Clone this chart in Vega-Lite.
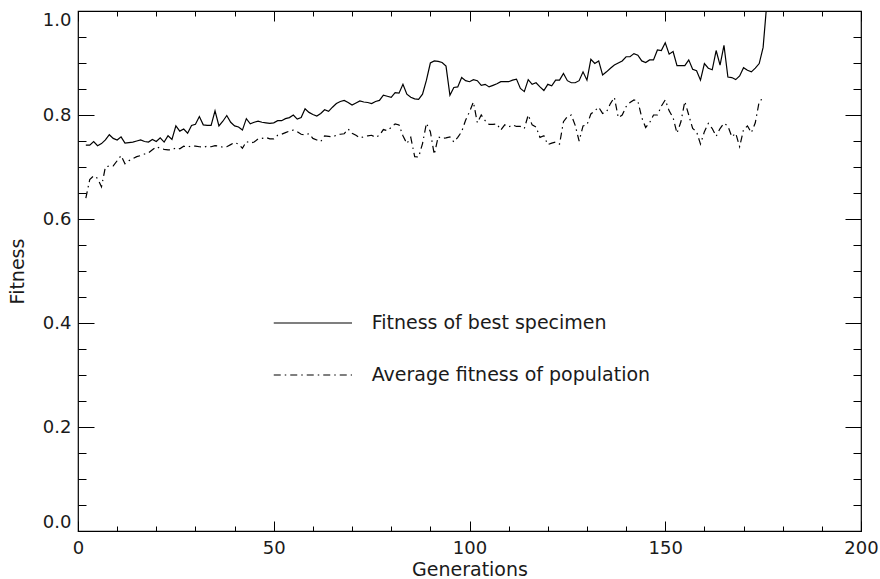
{
  "$schema": "https://vega.github.io/schema/vega-lite/v6.json",
  "width": 783,
  "height": 520,
  "autosize": {"type": "none"},
  "padding": {"left": 78, "top": 11, "right": 19, "bottom": 48},
  "background": "white",
  "config": {
    "view": {"stroke": "black", "strokeWidth": 1.2},
    "font": "DejaVu Sans",
    "axis": {
      "domain": false, "grid": false, "tickColor": "black", "tickWidth": 1,
      "labelColor": "#1a1a1a", "labelFont": "DejaVu Sans", "labelFontSize": 18, "labelFontWeight": "normal",
      "titleColor": "#1a1a1a", "titleFont": "DejaVu Sans", "titleFontSize": 19, "titleFontWeight": "normal"
    }
  },
  "datasets": {
    "best": [
      {"gen": 2, "fitness": 0.742}, {"gen": 3, "fitness": 0.742}, {"gen": 4, "fitness": 0.749}, {"gen": 5, "fitness": 0.741},
      {"gen": 6, "fitness": 0.745}, {"gen": 7, "fitness": 0.752}, {"gen": 8, "fitness": 0.762}, {"gen": 9, "fitness": 0.755},
      {"gen": 10, "fitness": 0.752}, {"gen": 11, "fitness": 0.758}, {"gen": 12, "fitness": 0.746}, {"gen": 13, "fitness": 0.747},
      {"gen": 14, "fitness": 0.748}, {"gen": 15, "fitness": 0.750}, {"gen": 16, "fitness": 0.752}, {"gen": 17, "fitness": 0.749},
      {"gen": 18, "fitness": 0.748}, {"gen": 19, "fitness": 0.753}, {"gen": 20, "fitness": 0.749}, {"gen": 21, "fitness": 0.756},
      {"gen": 22, "fitness": 0.748}, {"gen": 23, "fitness": 0.760}, {"gen": 24, "fitness": 0.753}, {"gen": 25, "fitness": 0.779},
      {"gen": 26, "fitness": 0.769}, {"gen": 27, "fitness": 0.773}, {"gen": 28, "fitness": 0.765}, {"gen": 29, "fitness": 0.780},
      {"gen": 30, "fitness": 0.782}, {"gen": 31, "fitness": 0.797}, {"gen": 32, "fitness": 0.781}, {"gen": 33, "fitness": 0.780},
      {"gen": 34, "fitness": 0.780}, {"gen": 35, "fitness": 0.808}, {"gen": 36, "fitness": 0.779}, {"gen": 37, "fitness": 0.788},
      {"gen": 38, "fitness": 0.799}, {"gen": 39, "fitness": 0.786}, {"gen": 40, "fitness": 0.779}, {"gen": 41, "fitness": 0.777},
      {"gen": 42, "fitness": 0.771}, {"gen": 43, "fitness": 0.793}, {"gen": 44, "fitness": 0.783}, {"gen": 45, "fitness": 0.786},
      {"gen": 46, "fitness": 0.788}, {"gen": 47, "fitness": 0.786}, {"gen": 48, "fitness": 0.785}, {"gen": 49, "fitness": 0.784},
      {"gen": 50, "fitness": 0.785}, {"gen": 51, "fitness": 0.789}, {"gen": 52, "fitness": 0.789}, {"gen": 53, "fitness": 0.793},
      {"gen": 54, "fitness": 0.795}, {"gen": 55, "fitness": 0.800}, {"gen": 56, "fitness": 0.792}, {"gen": 57, "fitness": 0.795},
      {"gen": 58, "fitness": 0.812}, {"gen": 59, "fitness": 0.805}, {"gen": 60, "fitness": 0.801}, {"gen": 61, "fitness": 0.798},
      {"gen": 62, "fitness": 0.803}, {"gen": 63, "fitness": 0.810}, {"gen": 64, "fitness": 0.807}, {"gen": 65, "fitness": 0.815},
      {"gen": 66, "fitness": 0.822}, {"gen": 67, "fitness": 0.826}, {"gen": 68, "fitness": 0.828}, {"gen": 69, "fitness": 0.824},
      {"gen": 70, "fitness": 0.819}, {"gen": 71, "fitness": 0.823}, {"gen": 72, "fitness": 0.827}, {"gen": 73, "fitness": 0.825},
      {"gen": 74, "fitness": 0.824}, {"gen": 75, "fitness": 0.822}, {"gen": 76, "fitness": 0.826}, {"gen": 77, "fitness": 0.828},
      {"gen": 78, "fitness": 0.838}, {"gen": 79, "fitness": 0.836}, {"gen": 80, "fitness": 0.834}, {"gen": 81, "fitness": 0.843},
      {"gen": 82, "fitness": 0.842}, {"gen": 83, "fitness": 0.859}, {"gen": 84, "fitness": 0.840}, {"gen": 85, "fitness": 0.834},
      {"gen": 86, "fitness": 0.831}, {"gen": 87, "fitness": 0.830}, {"gen": 88, "fitness": 0.840}, {"gen": 89, "fitness": 0.867},
      {"gen": 90, "fitness": 0.900}, {"gen": 91, "fitness": 0.904}, {"gen": 92, "fitness": 0.903}, {"gen": 93, "fitness": 0.901},
      {"gen": 94, "fitness": 0.894}, {"gen": 95, "fitness": 0.838}, {"gen": 96, "fitness": 0.853}, {"gen": 97, "fitness": 0.854},
      {"gen": 98, "fitness": 0.872}, {"gen": 99, "fitness": 0.866}, {"gen": 100, "fitness": 0.864}, {"gen": 101, "fitness": 0.868},
      {"gen": 102, "fitness": 0.866}, {"gen": 103, "fitness": 0.857}, {"gen": 104, "fitness": 0.859}, {"gen": 105, "fitness": 0.854},
      {"gen": 106, "fitness": 0.857}, {"gen": 107, "fitness": 0.860}, {"gen": 108, "fitness": 0.864}, {"gen": 109, "fitness": 0.864},
      {"gen": 110, "fitness": 0.864}, {"gen": 111, "fitness": 0.867}, {"gen": 112, "fitness": 0.869}, {"gen": 113, "fitness": 0.851},
      {"gen": 114, "fitness": 0.845}, {"gen": 115, "fitness": 0.868}, {"gen": 116, "fitness": 0.859}, {"gen": 117, "fitness": 0.862},
      {"gen": 118, "fitness": 0.854}, {"gen": 119, "fitness": 0.847}, {"gen": 120, "fitness": 0.859}, {"gen": 121, "fitness": 0.856},
      {"gen": 122, "fitness": 0.867}, {"gen": 123, "fitness": 0.867}, {"gen": 124, "fitness": 0.880}, {"gen": 125, "fitness": 0.866},
      {"gen": 126, "fitness": 0.862}, {"gen": 127, "fitness": 0.862}, {"gen": 128, "fitness": 0.866}, {"gen": 129, "fitness": 0.883},
      {"gen": 130, "fitness": 0.867}, {"gen": 131, "fitness": 0.907}, {"gen": 132, "fitness": 0.899}, {"gen": 133, "fitness": 0.904},
      {"gen": 134, "fitness": 0.877}, {"gen": 135, "fitness": 0.883}, {"gen": 136, "fitness": 0.890}, {"gen": 137, "fitness": 0.896},
      {"gen": 138, "fitness": 0.900}, {"gen": 139, "fitness": 0.904}, {"gen": 140, "fitness": 0.912}, {"gen": 141, "fitness": 0.912},
      {"gen": 142, "fitness": 0.918}, {"gen": 143, "fitness": 0.915}, {"gen": 144, "fitness": 0.904}, {"gen": 145, "fitness": 0.901},
      {"gen": 146, "fitness": 0.906}, {"gen": 147, "fitness": 0.906}, {"gen": 148, "fitness": 0.925}, {"gen": 149, "fitness": 0.924},
      {"gen": 150, "fitness": 0.939}, {"gen": 151, "fitness": 0.917}, {"gen": 152, "fitness": 0.922}, {"gen": 153, "fitness": 0.895},
      {"gen": 154, "fitness": 0.895}, {"gen": 155, "fitness": 0.895}, {"gen": 156, "fitness": 0.906}, {"gen": 157, "fitness": 0.888},
      {"gen": 158, "fitness": 0.885}, {"gen": 159, "fitness": 0.867}, {"gen": 160, "fitness": 0.899}, {"gen": 161, "fitness": 0.890},
      {"gen": 162, "fitness": 0.887}, {"gen": 163, "fitness": 0.924}, {"gen": 164, "fitness": 0.896}, {"gen": 165, "fitness": 0.934},
      {"gen": 166, "fitness": 0.873}, {"gen": 167, "fitness": 0.872}, {"gen": 168, "fitness": 0.868}, {"gen": 169, "fitness": 0.875},
      {"gen": 170, "fitness": 0.891}, {"gen": 171, "fitness": 0.886}, {"gen": 172, "fitness": 0.883}, {"gen": 173, "fitness": 0.890},
      {"gen": 174, "fitness": 0.899}, {"gen": 175, "fitness": 0.930}, {"gen": 176, "fitness": 1.02}
    ],
    "avg": [
      {"gen": 2, "fitness": 0.640}, {"gen": 3, "fitness": 0.676}, {"gen": 4, "fitness": 0.683}, {"gen": 5, "fitness": 0.678},
      {"gen": 6, "fitness": 0.662}, {"gen": 7, "fitness": 0.700}, {"gen": 8, "fitness": 0.702}, {"gen": 9, "fitness": 0.702},
      {"gen": 10, "fitness": 0.712}, {"gen": 11, "fitness": 0.722}, {"gen": 12, "fitness": 0.706}, {"gen": 13, "fitness": 0.712},
      {"gen": 14, "fitness": 0.716}, {"gen": 15, "fitness": 0.720}, {"gen": 16, "fitness": 0.722}, {"gen": 17, "fitness": 0.725},
      {"gen": 18, "fitness": 0.727}, {"gen": 19, "fitness": 0.733}, {"gen": 20, "fitness": 0.739}, {"gen": 21, "fitness": 0.736},
      {"gen": 22, "fitness": 0.734}, {"gen": 23, "fitness": 0.733}, {"gen": 24, "fitness": 0.733}, {"gen": 25, "fitness": 0.737},
      {"gen": 26, "fitness": 0.735}, {"gen": 27, "fitness": 0.740}, {"gen": 28, "fitness": 0.738}, {"gen": 29, "fitness": 0.741},
      {"gen": 30, "fitness": 0.740}, {"gen": 31, "fitness": 0.739}, {"gen": 32, "fitness": 0.738}, {"gen": 33, "fitness": 0.740},
      {"gen": 34, "fitness": 0.739}, {"gen": 35, "fitness": 0.741}, {"gen": 36, "fitness": 0.740}, {"gen": 37, "fitness": 0.738},
      {"gen": 38, "fitness": 0.739}, {"gen": 39, "fitness": 0.743}, {"gen": 40, "fitness": 0.747}, {"gen": 41, "fitness": 0.744},
      {"gen": 42, "fitness": 0.736}, {"gen": 43, "fitness": 0.749}, {"gen": 44, "fitness": 0.746}, {"gen": 45, "fitness": 0.748},
      {"gen": 46, "fitness": 0.754}, {"gen": 47, "fitness": 0.755}, {"gen": 48, "fitness": 0.757}, {"gen": 49, "fitness": 0.754},
      {"gen": 50, "fitness": 0.754}, {"gen": 51, "fitness": 0.761}, {"gen": 52, "fitness": 0.763}, {"gen": 53, "fitness": 0.766},
      {"gen": 54, "fitness": 0.769}, {"gen": 55, "fitness": 0.771}, {"gen": 56, "fitness": 0.768}, {"gen": 57, "fitness": 0.763},
      {"gen": 58, "fitness": 0.762}, {"gen": 59, "fitness": 0.764}, {"gen": 60, "fitness": 0.755}, {"gen": 61, "fitness": 0.752},
      {"gen": 62, "fitness": 0.749}, {"gen": 63, "fitness": 0.760}, {"gen": 64, "fitness": 0.759}, {"gen": 65, "fitness": 0.758},
      {"gen": 66, "fitness": 0.761}, {"gen": 67, "fitness": 0.763}, {"gen": 68, "fitness": 0.764}, {"gen": 69, "fitness": 0.773},
      {"gen": 70, "fitness": 0.765}, {"gen": 71, "fitness": 0.761}, {"gen": 72, "fitness": 0.756}, {"gen": 73, "fitness": 0.758},
      {"gen": 74, "fitness": 0.760}, {"gen": 75, "fitness": 0.761}, {"gen": 76, "fitness": 0.757}, {"gen": 77, "fitness": 0.761},
      {"gen": 78, "fitness": 0.772}, {"gen": 79, "fitness": 0.770}, {"gen": 80, "fitness": 0.776}, {"gen": 81, "fitness": 0.783},
      {"gen": 82, "fitness": 0.781}, {"gen": 83, "fitness": 0.760}, {"gen": 84, "fitness": 0.745}, {"gen": 85, "fitness": 0.757},
      {"gen": 86, "fitness": 0.720}, {"gen": 87, "fitness": 0.719}, {"gen": 88, "fitness": 0.745}, {"gen": 89, "fitness": 0.784},
      {"gen": 90, "fitness": 0.768}, {"gen": 91, "fitness": 0.724}, {"gen": 92, "fitness": 0.758}, {"gen": 93, "fitness": 0.755},
      {"gen": 94, "fitness": 0.756}, {"gen": 95, "fitness": 0.758}, {"gen": 96, "fitness": 0.748}, {"gen": 97, "fitness": 0.757},
      {"gen": 98, "fitness": 0.768}, {"gen": 99, "fitness": 0.790}, {"gen": 100, "fitness": 0.806}, {"gen": 101, "fitness": 0.825},
      {"gen": 102, "fitness": 0.785}, {"gen": 103, "fitness": 0.800}, {"gen": 104, "fitness": 0.789}, {"gen": 105, "fitness": 0.782},
      {"gen": 106, "fitness": 0.782}, {"gen": 107, "fitness": 0.783}, {"gen": 108, "fitness": 0.771}, {"gen": 109, "fitness": 0.781},
      {"gen": 110, "fitness": 0.777}, {"gen": 111, "fitness": 0.781}, {"gen": 112, "fitness": 0.778}, {"gen": 113, "fitness": 0.778},
      {"gen": 114, "fitness": 0.774}, {"gen": 115, "fitness": 0.800}, {"gen": 116, "fitness": 0.781}, {"gen": 117, "fitness": 0.777},
      {"gen": 118, "fitness": 0.757}, {"gen": 119, "fitness": 0.760}, {"gen": 120, "fitness": 0.743}, {"gen": 121, "fitness": 0.746},
      {"gen": 122, "fitness": 0.748}, {"gen": 123, "fitness": 0.744}, {"gen": 124, "fitness": 0.787}, {"gen": 125, "fitness": 0.797},
      {"gen": 126, "fitness": 0.800}, {"gen": 127, "fitness": 0.780}, {"gen": 128, "fitness": 0.750}, {"gen": 129, "fitness": 0.779},
      {"gen": 130, "fitness": 0.781}, {"gen": 131, "fitness": 0.802}, {"gen": 132, "fitness": 0.808}, {"gen": 133, "fitness": 0.815},
      {"gen": 134, "fitness": 0.803}, {"gen": 135, "fitness": 0.806}, {"gen": 136, "fitness": 0.822}, {"gen": 137, "fitness": 0.834},
      {"gen": 138, "fitness": 0.795}, {"gen": 139, "fitness": 0.800}, {"gen": 140, "fitness": 0.816}, {"gen": 141, "fitness": 0.824},
      {"gen": 142, "fitness": 0.829}, {"gen": 143, "fitness": 0.827}, {"gen": 144, "fitness": 0.795}, {"gen": 145, "fitness": 0.776},
      {"gen": 146, "fitness": 0.785}, {"gen": 147, "fitness": 0.800}, {"gen": 148, "fitness": 0.800}, {"gen": 149, "fitness": 0.817},
      {"gen": 150, "fitness": 0.829}, {"gen": 151, "fitness": 0.808}, {"gen": 152, "fitness": 0.795}, {"gen": 153, "fitness": 0.765},
      {"gen": 154, "fitness": 0.787}, {"gen": 155, "fitness": 0.826}, {"gen": 156, "fitness": 0.800}, {"gen": 157, "fitness": 0.774},
      {"gen": 158, "fitness": 0.768}, {"gen": 159, "fitness": 0.744}, {"gen": 160, "fitness": 0.768}, {"gen": 161, "fitness": 0.784},
      {"gen": 162, "fitness": 0.774}, {"gen": 163, "fitness": 0.759}, {"gen": 164, "fitness": 0.774}, {"gen": 165, "fitness": 0.784},
      {"gen": 166, "fitness": 0.779}, {"gen": 167, "fitness": 0.758}, {"gen": 168, "fitness": 0.765}, {"gen": 169, "fitness": 0.739},
      {"gen": 170, "fitness": 0.772}, {"gen": 171, "fitness": 0.779}, {"gen": 172, "fitness": 0.766}, {"gen": 173, "fitness": 0.785},
      {"gen": 174, "fitness": 0.826}, {"gen": 175, "fitness": 0.832}
    ],
    "legendBest": [{"x": 50, "x2": 70, "y": 0.4}],
    "legendAvg": [{"x": 50, "x2": 70, "y": 0.3}],
    "legendText": [
      {"x": 75, "y": 0.4, "label": "Fitness of best specimen"},
      {"x": 75, "y": 0.3, "label": "Average fitness of population"}
    ]
  },
  "resolve": {"axis": {"x": "independent", "y": "independent"}},
  "layer": [
    {
      "data": {"name": "best"},
      "mark": {"type": "line", "color": "black", "strokeWidth": 1.2, "clip": true},
      "encoding": {
        "x": {"field": "gen", "type": "quantitative",
              "scale": {"domain": [0, 200], "nice": false, "zero": false},
              "axis": {"orient": "bottom", "values": [0, 50, 100, 150, 200], "tickSize": -10, "labelFlush": false,
                       "labelPadding": 18, "title": "Generations", "titlePadding": 3}},
        "y": {"field": "fitness", "type": "quantitative",
              "scale": {"domain": [0, 1], "nice": false, "zero": false},
              "axis": {"orient": "left", "values": [0, 0.2, 0.4, 0.6, 0.8, 1.0], "format": ".1f",
                       "tickSize": -16, "labelPadding": 23, "labelFlush": true,
                       "title": "Fitness", "titlePadding": 15}}
      }
    },
    {
      "data": {"name": "avg"},
      "mark": {"type": "line", "color": "black", "strokeWidth": 1.2, "strokeDash": [7, 4, 1.5, 4], "clip": true},
      "encoding": {
        "x": {"field": "gen", "type": "quantitative",
              "axis": {"orient": "bottom", "values": [10, 20, 30, 40, 60, 70, 80, 90, 110, 120, 130, 140, 160, 170, 180, 190],
                       "tickSize": -5, "labels": false, "title": null}},
        "y": {"field": "fitness", "type": "quantitative",
              "axis": {"orient": "left", "values": [0.05, 0.1, 0.15, 0.25, 0.3, 0.35, 0.45, 0.5, 0.55, 0.65, 0.7, 0.75, 0.85, 0.9, 0.95],
                       "tickSize": -8, "labels": false, "title": null}}
      }
    },
    {
      "data": {"name": "legendBest"},
      "mark": {"type": "rule", "color": "black", "strokeWidth": 1.2},
      "encoding": {
        "x": {"field": "x", "type": "quantitative",
              "axis": {"orient": "top", "values": [0, 50, 100, 150, 200], "tickSize": -10, "labels": false, "title": null}},
        "x2": {"field": "x2"},
        "y": {"field": "y", "type": "quantitative",
              "axis": {"orient": "right", "values": [0, 0.2, 0.4, 0.6, 0.8, 1.0], "tickSize": -16, "labels": false, "title": null}}
      }
    },
    {
      "data": {"name": "legendAvg"},
      "mark": {"type": "rule", "color": "black", "strokeWidth": 1.2, "strokeDash": [7, 4, 1.5, 4]},
      "encoding": {
        "x": {"field": "x", "type": "quantitative",
              "axis": {"orient": "top", "values": [10, 20, 30, 40, 60, 70, 80, 90, 110, 120, 130, 140, 160, 170, 180, 190],
                       "tickSize": -5, "labels": false, "title": null}},
        "x2": {"field": "x2"},
        "y": {"field": "y", "type": "quantitative",
              "axis": {"orient": "right", "values": [0.05, 0.1, 0.15, 0.25, 0.3, 0.35, 0.45, 0.5, 0.55, 0.65, 0.7, 0.75, 0.85, 0.9, 0.95],
                       "tickSize": -8, "labels": false, "title": null}}
      }
    },
    {
      "data": {"name": "legendText"},
      "mark": {"type": "text", "align": "left", "baseline": "middle", "font": "DejaVu Sans", "fontSize": 19, "color": "#1a1a1a"},
      "encoding": {
        "x": {"field": "x", "type": "quantitative", "axis": null},
        "y": {"field": "y", "type": "quantitative", "axis": null},
        "text": {"field": "label"}
      }
    }
  ]
}
